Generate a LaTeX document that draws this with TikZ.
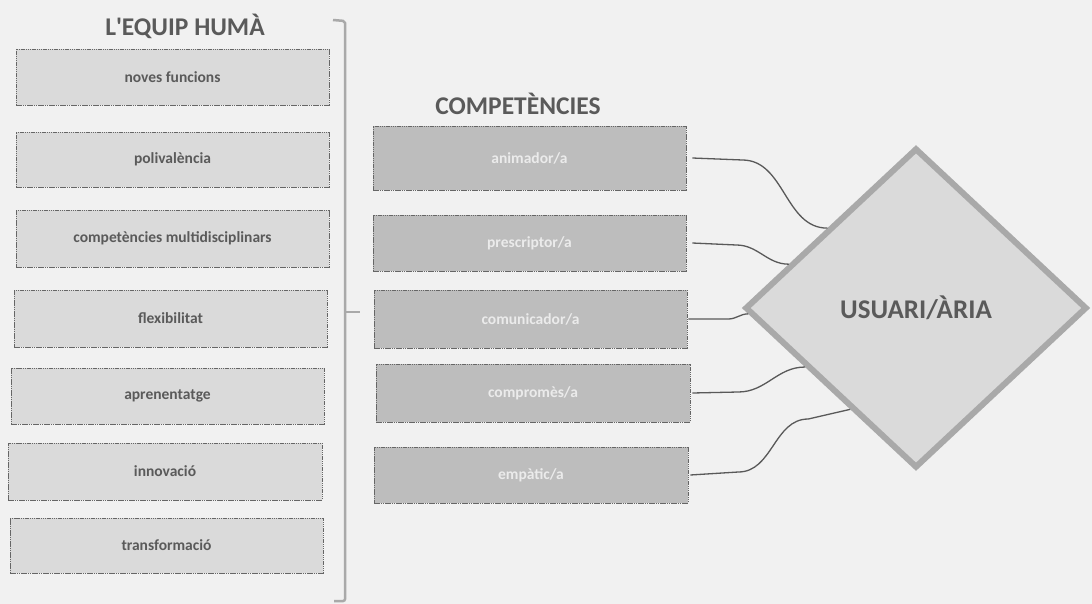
\documentclass[tikz,border=0pt]{standalone}
\usepackage{fontspec}
\setmainfont{Carlito}
\usepackage{tikz}
\usetikzlibrary{shapes.geometric}
\definecolor{paper}{HTML}{F1F1F1}
\definecolor{boxlight}{HTML}{DADADA}
\definecolor{boxdark}{HTML}{BDBDBD}
\definecolor{inkgray}{HTML}{5A5A5A}
\definecolor{framegray}{HTML}{A9A9A9}

\begin{document}
\begin{tikzpicture}[x=1pt,y=-1pt,
	humabox/.style={draw=black!60, dash pattern=on 1.5pt off 0.7pt, line width=0.6pt,
		fill=boxlight, minimum width=313pt, minimum height=56pt, inner sep=0pt,
		text=inkgray, font=\fontsize{15.5}{18}\selectfont\bfseries},
	compbox/.style={humabox, fill=boxdark, text=white!92!black},
	heading/.style={text=inkgray, font=\fontsize{25.5}{30}\selectfont\bfseries},
	link/.style={draw=black!65, line width=1.3pt}]
	\fill[paper] (0,0) rectangle (1092,604);
	\useasboundingbox (0,0) rectangle (1092,604);
	% left column
	\node[heading] (tequip) at (185,26) {L\textquotesingle EQUIP HUMÀ};
	\node[humabox] (noves) at (172.5,77) {noves funcions};
	\node[humabox, minimum height=55pt] (poli) at (172.5,159.5) {polivalència};
	\node[humabox, minimum height=57pt] (multi) at (172.5,238.5) {competències multidisciplinars};
	\node[humabox, minimum height=57pt] (flex) at (170.5,318.5) {flexibilitat};
	\node[humabox] (apren) at (167.5,396) {aprenentatge};
	\node[humabox, minimum width=314pt, minimum height=57pt] (innova) at (165,471.5) {innovació};
	\node[humabox, minimum height=55pt] (transf) at (166.5,545.5) {transformació};
	\draw[framegray, line width=2.5pt, rounded corners=2pt]
	(333,20) -- (345,21) -- (345,601) -- (334,601);
	\draw[framegray, line width=2.5pt] (345,312) -- (360,312);
	% middle column
	\node[heading] (tcomp) at (518,104) {COMPETÈNCIES};
	\node[compbox, minimum height=64pt] (anim) at (529.5,158) {animador/a};
	\node[compbox] (presc) at (529.5,243) {prescriptor/a};
	\node[compbox, minimum height=58pt] (comun) at (530.5,319) {comunicador/a};
	\node[compbox, minimum width=314pt, minimum height=58pt] (compr) at (533,393) {compromès/a};
	\node[compbox, minimum width=314pt] (empat) at (531,475) {empàtic/a};
	% user
	\node[diamond, draw=framegray, line width=6pt, fill=boxlight, inner sep=0pt,
		minimum width=342pt, minimum height=320pt, text=inkgray,
		font=\fontsize{27}{32}\selectfont\bfseries] (usr) at (916,308) {USUARI/ÀRIA};
	\draw[link] ([xshift=6pt]anim.east) -- ++(50,2) to[out=0,in=180] (usr.138);
	\draw[link] ([xshift=6pt]presc.east) -- ++(44,2) to[out=0,in=180] (usr.161);
	\draw[link] ([xshift=1pt]comun.east) -- ++(40,0) to[out=0,in=180] (usr.182);
	\draw[link] ([xshift=2pt]compr.east) -- ++(46,-1) to[out=0,in=180] (usr.208);
	\draw[link] ([xshift=2pt]empat.east) -- ++(48,-3) to[out=0,in=180] ++(70,-53) -- (usr.237);
\end{tikzpicture}
\end{document}
